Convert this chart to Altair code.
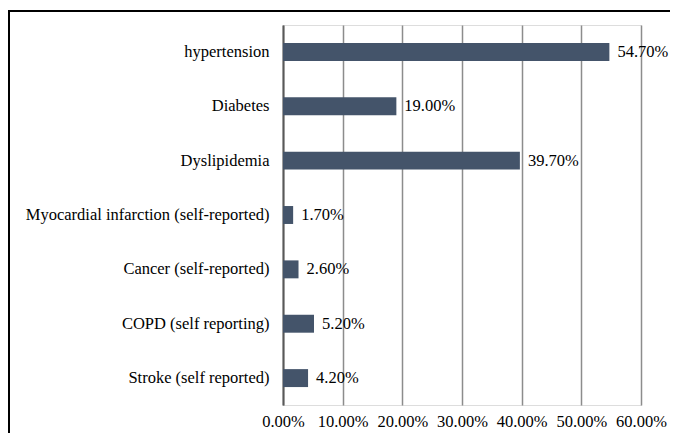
import altair as alt
import pandas as pd

categories = ["hypertension", "Diabetes", "Dyslipidemia",
              "Myocardial infarction (self-reported)", "Cancer (self-reported)",
              "COPD (self reporting)", "Stroke (self reported)"]
values = [0.547, 0.19, 0.397, 0.017, 0.026, 0.052, 0.042]

df = pd.DataFrame({"cat": categories, "val": values})
FONT = "Liberation Serif"
FS = 16.5

base = alt.Chart(df)

frame = base.mark_rect(filled=False, stroke="#000000", strokeWidth=1.5, clip=False).encode(
    x=alt.value(-274), x2=alt.value(600), y=alt.value(-14), y2=alt.value(600)
)

bars = base.mark_bar(color="#44546A").encode(
    y=alt.Y("cat:N", sort=categories, title=None,
            scale=alt.Scale(paddingInner=0.67, paddingOuter=0.33),
            axis=alt.Axis(ticks=False, domainColor="#595959", domainWidth=2,
                          labelFont=FONT, labelFontSize=FS, labelColor="#000000",
                          labelPadding=14, labelLimit=400)),
    x=alt.X("val:Q", title=None, scale=alt.Scale(domain=[0, 0.6], nice=False),
            axis=alt.Axis(format=".2%", values=[0, 0.1, 0.2, 0.3, 0.4, 0.5, 0.6],
                          domain=False, ticks=False, grid=True, gridColor="#8c8c8c",
                          gridWidth=1.5, labelFont=FONT, labelFontSize=FS,
                          labelColor="#000000", labelPadding=8, labelOverlap=False,
                          labelFlush=False)),
)

labels = base.mark_text(align="left", baseline="middle", dx=8, font=FONT,
                        fontSize=FS, color="#000000").encode(
    y=alt.Y("cat:N", sort=categories),
    x=alt.X("val:Q"),
    text=alt.Text("val:Q", format=".2%"),
)

chart = alt.layer(bars, labels, frame).properties(
    width=358, height=380,
    autosize=alt.AutoSizeParams(type="none"),
    padding={"left": 275, "top": 17, "right": 29, "bottom": 28},
).configure_view(stroke=None).configure(background="white")

chart.save("out.html", embed_options={"renderer": "svg", "actions": False})
